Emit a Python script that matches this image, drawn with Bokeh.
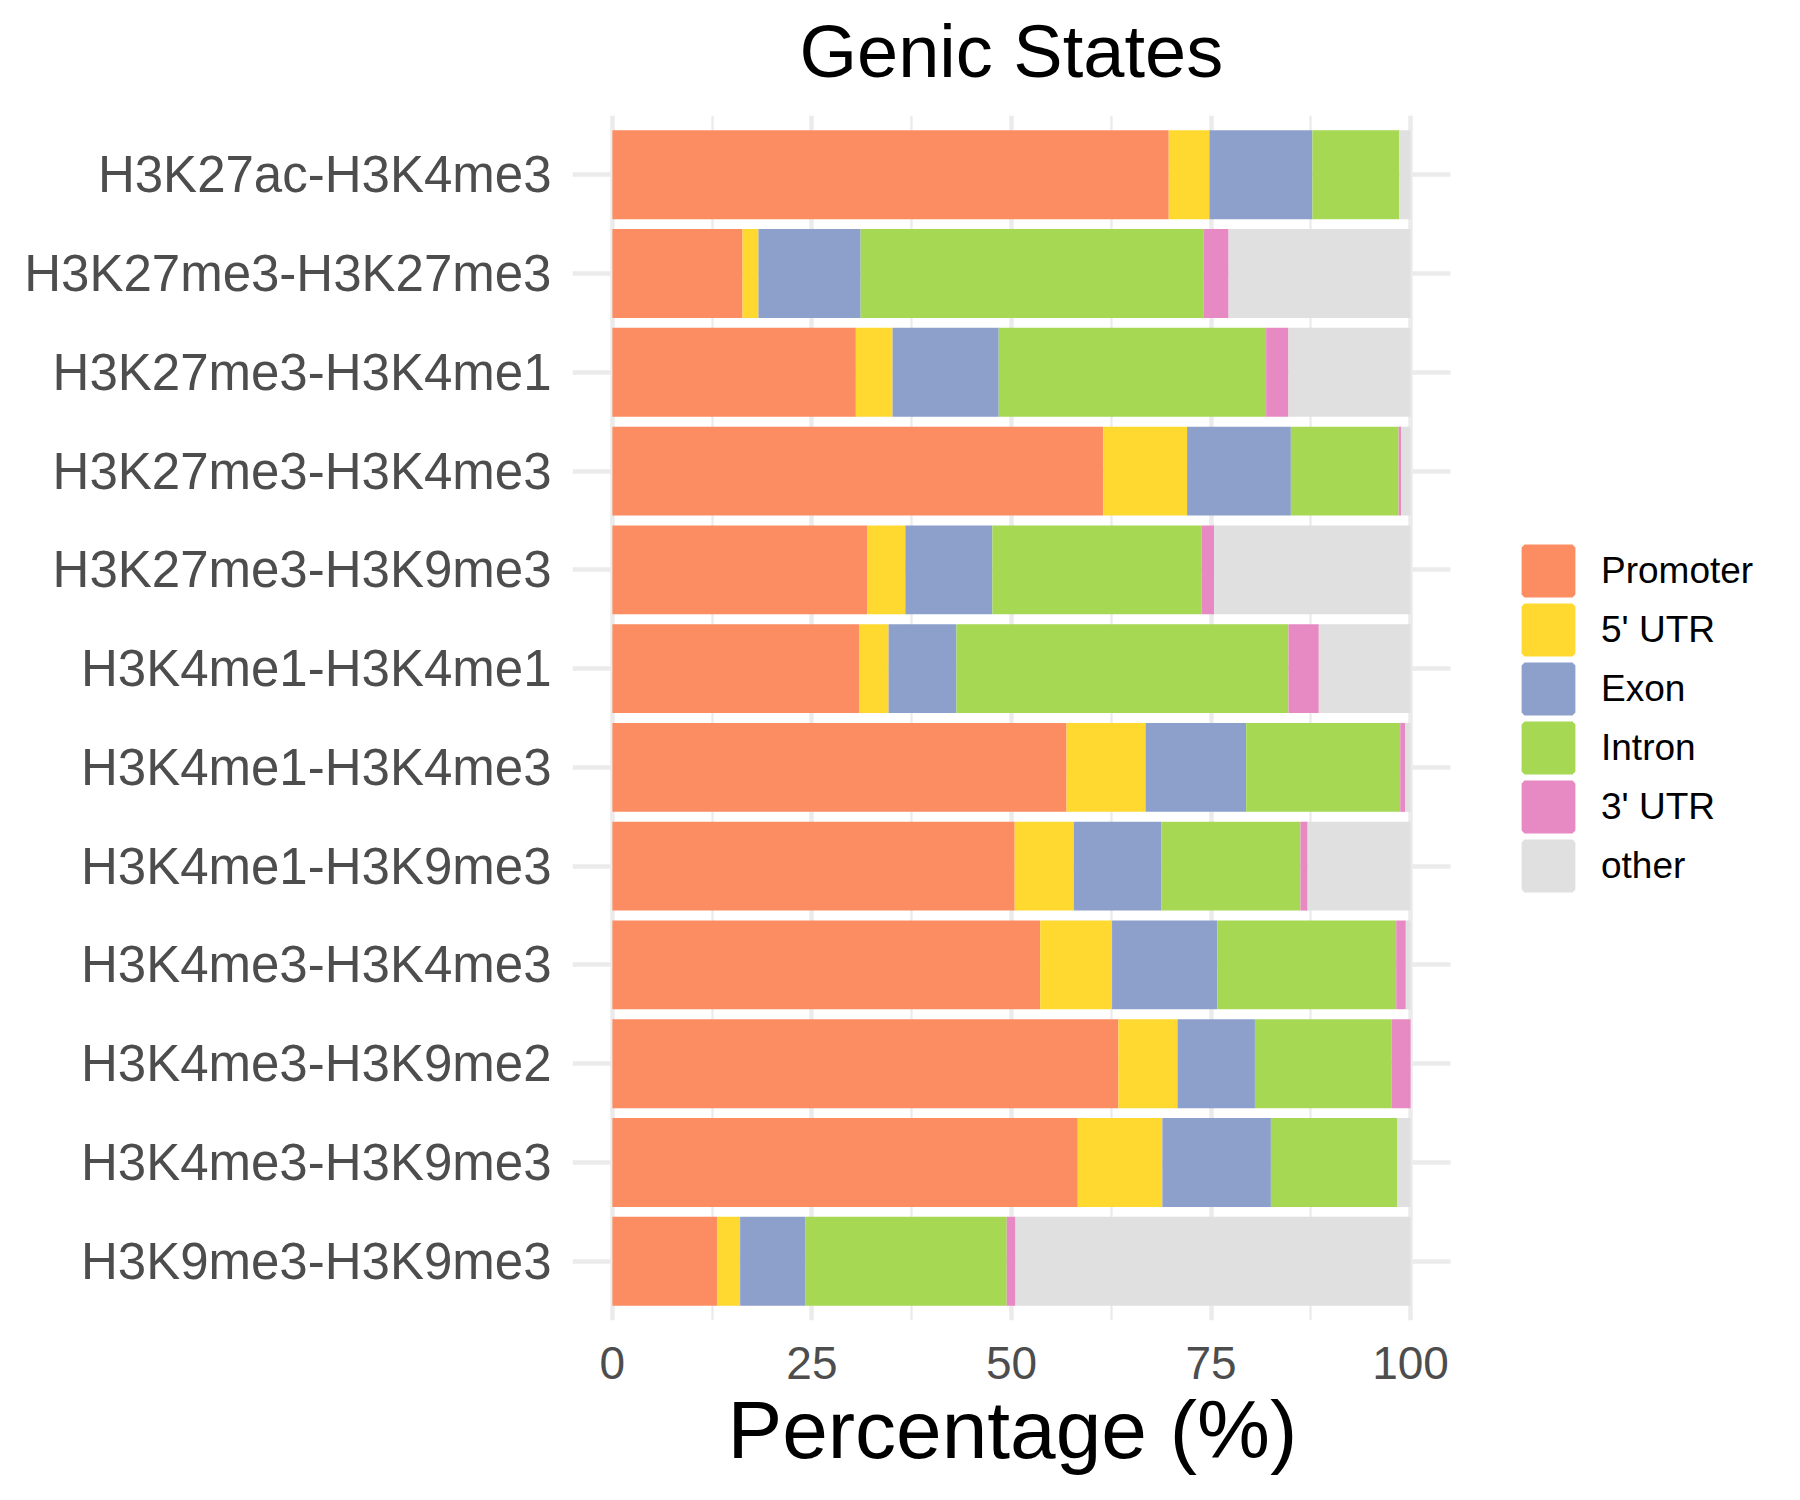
from bokeh.plotting import figure
from bokeh.models import (FactorRange, Range1d, FixedTicker, Legend, LegendItem,
                          ColumnDataSource, Title)
from bokeh.embed import file_html
from bokeh.resources import INLINE

# ---------------- data ----------------
pairs = [
    "H3K27ac-H3K4me3",
    "H3K27me3-H3K27me3",
    "H3K27me3-H3K4me1",
    "H3K27me3-H3K4me3",
    "H3K27me3-H3K9me3",
    "H3K4me1-H3K4me1",
    "H3K4me1-H3K4me3",
    "H3K4me1-H3K9me3",
    "H3K4me3-H3K4me3",
    "H3K4me3-H3K9me2",
    "H3K4me3-H3K9me3",
    "H3K9me3-H3K9me3",
]
promoter = [69.7, 16.3, 30.5, 61.5, 31.9, 30.9, 56.9, 50.4, 53.6, 63.4, 58.3, 13.1]
utr5     = [5.1, 2.0, 4.6, 10.5, 4.8, 3.7, 9.9, 7.4, 9.0, 7.4, 10.6, 2.9]
exon     = [12.9, 12.8, 13.3, 13.0, 10.9, 8.5, 12.6, 11.0, 13.2, 9.7, 13.6, 8.2]
intron   = [10.9, 43.0, 33.5, 13.5, 26.2, 41.6, 19.3, 17.4, 22.4, 17.1, 15.8, 25.2]
utr3     = [0.0, 3.1, 2.8, 0.3, 1.6, 3.8, 0.6, 0.9, 1.2, 2.4, 0.0, 1.1]
other    = [1.4, 22.8, 15.3, 1.2, 24.6, 11.5, 0.7, 12.9, 0.6, 0.0, 1.7, 49.5]

states = ["Promoter", "5' UTR", "Exon", "Intron", "3' UTR", "other"]
colors = ["#FC8D62", "#FFD92F", "#8DA0CB", "#A6D854", "#E78AC3", "#E0E0E0"]
x_ticks = [0, 25, 50, 75, 100]
x_minor_ticks = [12.5, 37.5, 62.5, 87.5]

title_text = "Genic States"
x_label = "Percentage (%)"

# panel limits of the percentage scale (ggplot-like 5 % expansion)
x_lo, x_hi = -5, 105
# the frame runs on to the right edge so that the legend can sit beside the bars
x_view_end = 148.85

source = ColumnDataSource(data={
    "pair": pairs,
    "Promoter": promoter,
    "5' UTR": utr5,
    "Exon": exon,
    "Intron": intron,
    "3' UTR": utr3,
    "other": other,
})

FONT = "Liberation Sans"

p = figure(
    width=1800, height=1500,
    y_range=FactorRange(factors=pairs[::-1], range_padding=1 / 60,
                        range_padding_units="percent"),
    x_range=Range1d(x_lo, x_view_end),
    output_backend="svg", toolbar_location=None,
    min_border_left=572, min_border_right=0,
    min_border_top=115, min_border_bottom=180,
)
p.outline_line_color = None
p.background_fill_color = "white"
p.border_fill_color = "white"

# ---- grid ----
p.xgrid.grid_line_color = "#ebebeb"
p.xgrid.grid_line_width = 4.5
p.xgrid.minor_grid_line_color = "#ebebeb"
p.xgrid.minor_grid_line_width = 2.3
try:
    p.ygrid.cross_bounds = (x_lo, x_hi)
    p.ygrid.grid_line_color = "#ebebeb"
    p.ygrid.grid_line_width = 4.5
except Exception:
    p.ygrid.grid_line_color = None
    p.segment(x0=[x_lo] * len(pairs), x1=[x_hi] * len(pairs), y0=pairs, y1=pairs,
              line_color="#ebebeb", line_width=4.5, level="underlay")

bars = p.hbar_stack(states, y="pair", height=0.9, source=source,
                    fill_color=colors, line_color=None)

# ---- title (a blank spacer title sits between the frame and the main title) ----
p.add_layout(Title(text=" ", text_font_size="1px", standoff=20), "above")
p.title.text = title_text
p.title.align = "left"
p.title.offset = 227
p.title.text_font = FONT
p.title.text_font_size = "74px"
p.title.text_font_style = "normal"
p.title.text_color = "black"
p.title.standoff = 0

# ---- x axis ----
p.xaxis.bounds = (x_lo, x_hi)
p.xaxis.ticker = FixedTicker(ticks=x_ticks, minor_ticks=x_minor_ticks)
p.xaxis.major_label_text_font = FONT
p.xaxis.major_label_text_font_size = "46px"
p.xaxis.major_label_text_color = "#4d4d4d"
p.xaxis.major_label_standoff = 22
p.xaxis.axis_line_color = None
p.xaxis.major_tick_line_color = None
p.xaxis.minor_tick_line_color = None
p.xaxis.major_tick_out = 0
p.xaxis.major_tick_in = 0

# x-axis title, centred under the percentage panel (not the whole frame)
x_title = Title(text=x_label, align="left", offset=155, standoff=0,
                text_font=FONT, text_font_size="82px", text_font_style="normal",
                text_color="black")
p.add_layout(x_title, "below")

# ---- y axis ----
p.yaxis.major_label_text_font = FONT
p.yaxis.major_label_text_font_size = "51px"
p.yaxis.major_label_text_color = "#4d4d4d"
p.yaxis.major_label_standoff = 21
p.yaxis.axis_line_color = None
p.yaxis.major_tick_line_color = None
p.yaxis.minor_tick_line_color = None
p.yaxis.major_tick_out = 0
p.yaxis.major_tick_in = 0

# ---- legend: hidden key renderers (stroked so the swatch fills the key) ----
keys = []
for s, c, vals in zip(states, colors, [promoter, utr5, exon, intron, utr3, other]):
    k = p.hbar(y=[pairs[0]], left=[0], right=[vals[0]], height=0.9,
               fill_color=c, line_color=c, line_width=5.8, visible=False)
    keys.append(k)

items = [LegendItem(label=s, renderers=[k]) for s, k in zip(states, keys)]
legend = Legend(
    items=items, location=(946, 425), orientation="vertical",
    glyph_width=60, glyph_height=59, spacing=0, label_standoff=23,
    label_text_font=FONT, label_text_font_size="37px", label_text_color="black",
    padding=0, margin=0, border_line_color=None, background_fill_alpha=0,
)
p.add_layout(legend, "center")

open("out.html", "w").write(file_html(p, INLINE))
